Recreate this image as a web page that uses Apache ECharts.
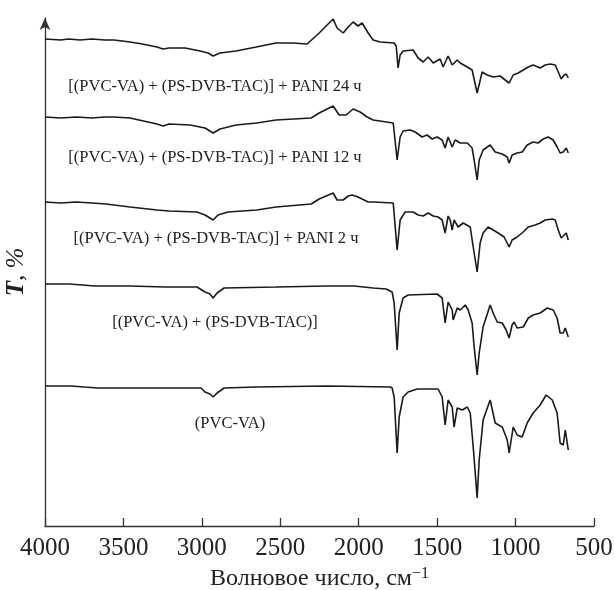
<!DOCTYPE html>
<html><head><meta charset="utf-8">
<script src="https://cdn.jsdelivr.net/npm/echarts@6/dist/echarts.min.js"></script>
<style>html,body{margin:0;padding:0;background:#fff}#c{width:615px;height:590px}</style>
</head><body><div id="c"></div>
<script>
// wavenumber (cm^-1), transmittance (arbitrary units, stacked as in the figure)
const xTicks = [4000,3500,3000,2500,2000,1500,1000,500];
const labels = ["[(PVC-VA) + (PS-DVB-TAC)] + PANI 24 ч","[(PVC-VA) + (PS-DVB-TAC)] + PANI 12 ч","[(PVC-VA) + (PS-DVB-TAC)] + PANI 2 ч","[(PVC-VA) + (PS-DVB-TAC)]","(PVC-VA)"];

const pani24 = [[4000,487],[3900,486],[3850,487],[3777,486],[3700,487],[3620,486],[3560,486],[3458,484],[3380,482],[3286,479],[3247,477],[3209,478],[3107,478],[3011,475],[2960,473],[2928,470],[2884,473],[2782,475],[2654,479],[2527,483],[2420,483],[2329,482],[2252,493],[2189,503],[2163,507],[2138,498],[2099,493],[2067,499],[2036,504],[2004,500],[1978,503],[1940,493],[1908,486],[1863,484],[1774,483],[1761,480],[1749,458],[1736,471],[1717,475],[1653,476],[1621,468],[1589,464],[1557,469],[1525,463],[1481,467],[1462,459],[1430,470],[1404,461],[1372,466],[1353,463],[1308,459],[1277,456],[1245,433],[1213,454],[1181,451],[1143,449],[1098,450],[1066,446],[1041,443],[1015,451],[983,453],[951,456],[919,459],[888,461],[843,458],[811,461],[779,462],[747,461],[728,454],[709,447],[690,451],[677,452],[664,448]];

const pani12 = [[4000,409],[3900,408],[3800,409],[3700,408],[3620,409],[3560,409],[3458,408],[3286,402],[3247,400],[3209,402],[3075,401],[2980,398],[2928,393],[2884,397],[2782,401],[2650,403],[2527,406],[2303,408],[2252,413],[2163,420],[2125,411],[2080,411],[2036,417],[1991,414],[1946,409],[1908,406],[1780,403],[1768,401],[1755,366],[1736,389],[1717,395],[1672,396],[1640,394],[1596,389],[1564,391],[1532,387],[1500,389],[1468,386],[1449,378],[1430,389],[1404,379],[1385,386],[1353,383],[1308,383],[1277,378],[1264,366],[1245,346],[1232,366],[1207,376],[1162,381],[1130,374],[1085,372],[1053,369],[1041,363],[1022,371],[990,373],[958,374],[926,381],[888,384],[856,383],[824,387],[792,389],[760,386],[735,379],[716,373],[696,374],[677,378],[664,373]];

const pani2 = [[4000,324],[3900,323],[3800,324],[3700,323],[3611,322],[3458,319],[3286,316],[3209,315],[3031,314],[2980,311],[2928,306],[2897,311],[2833,314],[2650,316],[2527,319],[2303,322],[2252,327],[2163,333],[2138,326],[2099,326],[2067,330],[2042,331],[2004,329],[1940,324],[1908,324],[1780,323],[1768,321],[1755,276],[1736,306],[1704,314],[1653,314],[1621,311],[1589,310],[1557,313],[1525,310],[1494,309],[1468,306],[1449,293],[1430,310],[1417,306],[1404,296],[1392,306],[1366,299],[1334,303],[1289,299],[1270,279],[1245,254],[1226,283],[1207,293],[1175,299],[1143,296],[1111,293],[1073,289],[1041,279],[1022,286],[990,289],[951,294],[919,299],[875,301],[843,303],[811,306],[766,307],[747,306],[728,296],[709,288],[690,291],[677,293],[664,286]];

const blend = [[4000,242],[3850,242],[3758,241],[3687,240],[3458,240],[3235,239],[3031,239],[2980,234],[2948,232],[2928,228],[2903,233],[2858,238],[2527,239],[2201,240],[2029,240],[1908,238],[1825,237],[1787,234],[1774,223],[1755,176],[1742,213],[1717,228],[1685,231],[1500,232],[1468,228],[1449,203],[1430,224],[1404,216],[1398,206],[1372,218],[1353,216],[1321,221],[1302,216],[1277,203],[1264,179],[1245,151],[1232,173],[1207,199],[1162,221],[1143,213],[1117,204],[1085,203],[1060,196],[1041,188],[1022,201],[1009,204],[990,198],[951,199],[919,208],[888,211],[843,213],[798,218],[760,216],[735,208],[716,193],[696,193],[683,198],[664,189]];

const pvcva = [[4000,140],[3900,140],[3834,140],[3750,139],[3662,138],[3458,138],[3235,138],[3005,138],[2980,134],[2948,132],[2928,129],[2903,133],[2858,138],[2654,139],[2201,140],[1800,139],[1787,138],[1774,129],[1755,73],[1742,109],[1717,129],[1685,134],[1627,137],[1494,137],[1468,129],[1449,101],[1430,126],[1404,119],[1392,99],[1372,118],[1340,116],[1308,119],[1289,113],[1270,79],[1245,28],[1232,66],[1207,106],[1162,126],[1130,103],[1085,99],[1053,86],[1041,73],[1015,99],[990,91],[958,89],[926,103],[888,113],[843,121],[805,131],[766,126],[735,113],[716,83],[696,81],[683,96],[664,76]];

const seriesData = [pani24, pani12, pani2, blend, pvcva];
const labelPos = [[215,87],[215,158],[216,239],[215,323],[230,424]];

const chart = echarts.init(document.getElementById('c'), null, {renderer:'canvas'});
const serif = '"Liberation Serif", "DejaVu Serif", serif';
chart.setOption({
  animation:false,
  backgroundColor:'#fff',
  grid:{left:45,right:21,top:18,bottom:64,outerBoundsMode:'none',containLabel:false},
  xAxis:{
    type:'value', inverse:true, min:500, max:4000, interval:500,
    axisLine:{lineStyle:{color:'#333',width:1.3}},
    axisTick:{inside:true,length:8,lineStyle:{color:'#333',width:1.3}},
    axisLabel:{color:'#222',fontSize:25,fontFamily:serif,margin:10,formatter:v=>String(v)},
    splitLine:{show:false},
    name:'{a|Волновое число, см}{s|−1}',
    nameLocation:'middle', nameGap:40,
    nameTextStyle:{rich:{a:{fontSize:24,fontFamily:serif,color:'#222'},s:{fontSize:16,fontFamily:serif,color:'#222',verticalAlign:'top',padding:[0,0,10,0]}}}
  },
  yAxis:{
    type:'value', min:0, max:508,
    axisLine:{show:true,symbol:['none','arrow'],symbolSize:[8,12],lineStyle:{color:'#333',width:1.3}},
    axisTick:{show:false}, axisLabel:{show:false}, splitLine:{show:false},
    name:'{t|T}{r|, %}', nameLocation:'middle', nameGap:16, nameRotate:90,
    nameTextStyle:{rich:{t:{fontSize:25,fontFamily:serif,fontStyle:'italic',fontWeight:'bold',color:'#222'},r:{fontSize:25,fontFamily:serif,fontStyle:'italic',color:'#222'}}}
  },
  series: seriesData.map(d=>({type:'line',data:d,showSymbol:false,lineStyle:{color:'#1a1a1a',width:1.6},itemStyle:{color:'#1a1a1a'}})),
  graphic: labels.map((t,i)=>({type:'text',x:labelPos[i][0],y:labelPos[i][1],style:{text:t,font:'16.5px '+serif,fill:'#222',align:'center',verticalAlign:'middle'}}))
});
</script></body></html>
